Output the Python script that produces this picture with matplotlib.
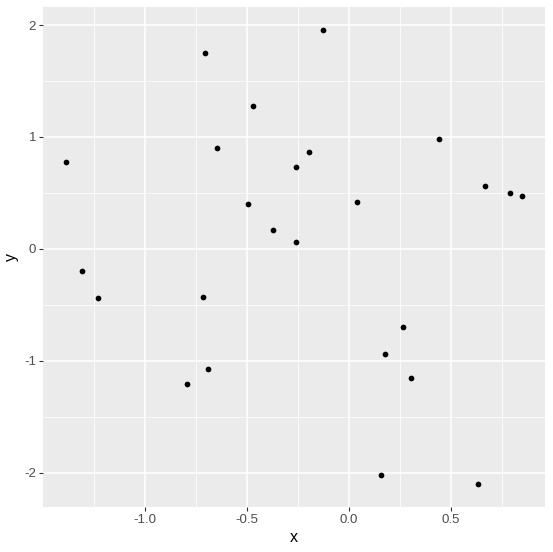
import matplotlib
matplotlib.use("Agg")
import matplotlib.pyplot as plt

plt.rcParams["font.family"] = ["Liberation Sans", "DejaVu Sans"]

# scatter values
x = [-1.388, -1.310, -0.706, -0.471, -0.647, -0.495, -0.372, -0.127, -0.196,
     -0.260, 0.040, -0.260, 0.442, 0.668, 0.791, 0.849, -1.231, -0.716,
     -0.691, -0.794, 0.266, 0.177, 0.305, 0.158, 0.633]
y = [0.778, -0.197, 1.753, 1.279, 0.903, 0.402, 0.170, 1.959, 0.868,
     0.733, 0.420, 0.063, 0.984, 0.563, 0.501, 0.474, -0.438, -0.429,
     -1.073, -1.208, -0.698, -0.939, -1.154, -2.021, -2.102]
xticks = [-1.0, -0.5, 0.0, 0.5]
yticks = [-2, -1, 0, 1, 2]

W, H = 553, 552
fig = plt.figure(figsize=(W / 100, H / 100), dpi=100)
ax = fig.add_axes([43.3 / W, (H - 506.7) / H, (545 - 43.3) / W, (506.7 - 7) / H])
ax.set_facecolor("#EBEBEB")

# ggplot-style 5% expansion
xr = max(x) - min(x)
yr = max(y) - min(y)
ax.set_xlim(min(x) - 0.05 * xr, max(x) + 0.05 * xr)
ax.set_ylim(min(y) - 0.05 * yr, max(y) + 0.05 * yr)

ax.set_xticks(xticks)
ax.set_xticklabels([f"{v:.1f}" for v in xticks])
ax.set_yticks(yticks)
ax.set_yticklabels([str(v) for v in yticks])
ax.set_xticks([-1.25, -0.75, -0.25, 0.25, 0.75], minor=True)
ax.set_yticks([-1.5, -0.5, 0.5, 1.5], minor=True)

ax.grid(which="major", color="white", linewidth=1.1)
ax.grid(which="minor", color="white", linewidth=0.55)
ax.set_axisbelow(True)
for s in ax.spines.values():
    s.set_visible(False)

ax.tick_params(which="major", length=2.7, width=0.8, color="#333333",
               labelcolor="#4D4D4D", labelsize=9.5, pad=2.5)
ax.tick_params(which="minor", length=0)

ax.scatter(x, y, s=17, color="black", linewidths=0, zorder=3)

ax.set_xlabel("x", fontsize=11.5, color="black", labelpad=3)
ax.set_ylabel("y", fontsize=11.5, color="black", labelpad=4)

fig.savefig("out.png", dpi=100, facecolor="white")
